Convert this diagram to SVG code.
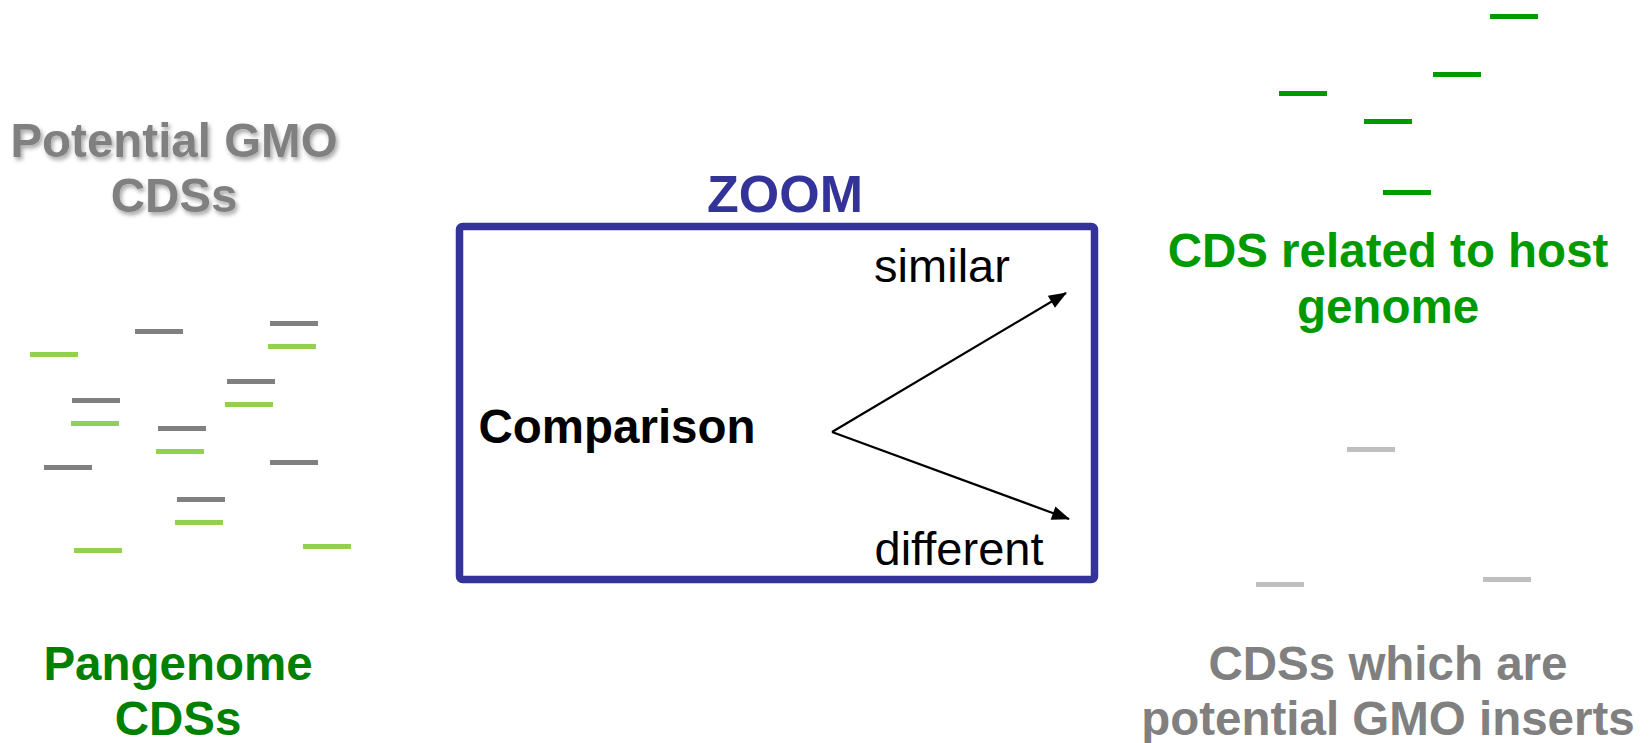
<svg xmlns="http://www.w3.org/2000/svg" width="1649" height="743" viewBox="0 0 1649 743">
<defs>
<style>
.t{font-family:"Liberation Sans",Arial,sans-serif;text-anchor:middle}
.b{font-weight:bold}
.gray{fill:#808080}
.pg{fill:#008000}
.hg{fill:#009900}
.bg{fill:#808080}
.bl{fill:#92D050}
.bd{fill:#009900}
.bs{fill:#BFBFBF}
.conn{stroke:#000;stroke-width:2.2;fill:none;marker-end:url(#ah)}
</style>
<filter id="sh" x="-10%" y="-20%" width="120%" height="150%">
<feDropShadow dx="2" dy="3" stdDeviation="2" flood-color="#000" flood-opacity="0.35"/>
</filter>
<marker id="ah" viewBox="0 0 18 14" refX="17" refY="7" markerWidth="18" markerHeight="14" markerUnits="userSpaceOnUse" orient="auto" overflow="visible">
<path d="M0,0 L18,7 L0,14 z" fill="#000"/>
</marker>
</defs>
<rect width="1649" height="743" fill="#fff"/>

<g id="potential-gmo-label">
<text class="t b gray" font-size="47.5" filter="url(#sh)"><tspan x="174" y="157">Potential GMO</tspan><tspan x="174" y="212">CDSs</tspan></text>
</g>

<g id="pangenome-cds">
<rect class="bg" x="270" y="321" width="48" height="5"/>
<rect class="bg" x="135" y="329" width="48" height="5"/>
<rect class="bg" x="227" y="379" width="48" height="5"/>
<rect class="bg" x="72" y="398" width="48" height="5"/>
<rect class="bg" x="158" y="426" width="48" height="5"/>
<rect class="bg" x="44" y="465" width="48" height="5"/>
<rect class="bg" x="270" y="460" width="48" height="5"/>
<rect class="bg" x="177" y="497" width="48" height="5"/>
<rect class="bl" x="30" y="352" width="48" height="5"/>
<rect class="bl" x="268" y="344" width="48" height="5"/>
<rect class="bl" x="225" y="402" width="48" height="5"/>
<rect class="bl" x="71" y="421" width="48" height="5"/>
<rect class="bl" x="156" y="449" width="48" height="5"/>
<rect class="bl" x="175" y="520" width="48" height="5"/>
<rect class="bl" x="74" y="548" width="48" height="5"/>
<rect class="bl" x="303" y="544" width="48" height="5"/>
</g>

<g id="pangenome-label">
<text class="t b pg" font-size="47.5"><tspan x="178" y="680">Pangenome</tspan><tspan x="178" y="735">CDSs</tspan></text>
</g>

<g id="zoom-box">
<text class="t b" font-size="52" fill="#333399" x="785" y="212">ZOOM</text>
<rect x="459.5" y="226.5" width="635" height="353" rx="3" fill="none" stroke="#333399" stroke-width="7.5"/>
<text class="t b" font-size="47.5" fill="#000" x="617" y="443">Comparison</text>
<text class="t" font-size="47" fill="#000" x="942" y="282">similar</text>
<text class="t" font-size="47" fill="#000" x="959" y="565">different</text>
</g>

<g id="connectors">
<line class="conn" x1="832" y1="432" x2="1066" y2="293"/>
<line class="conn" x1="832" y1="432" x2="1069" y2="519"/>
</g>

<g id="host-cds">
<rect class="bd" x="1490" y="14" width="48" height="5"/>
<rect class="bd" x="1433" y="72" width="48" height="5"/>
<rect class="bd" x="1279" y="91" width="48" height="5"/>
<rect class="bd" x="1364" y="119" width="48" height="5"/>
<rect class="bd" x="1383" y="190" width="48" height="5"/>
<text class="t b hg" font-size="47.5"><tspan x="1388" y="267">CDS related to host</tspan><tspan x="1388" y="323">genome</tspan></text>
</g>

<g id="gmo-inserts">
<rect class="bs" x="1347" y="447" width="48" height="5"/>
<rect class="bs" x="1256" y="582" width="48" height="5"/>
<rect class="bs" x="1483" y="577" width="48" height="5"/>
<text class="t b gray" font-size="47.5"><tspan x="1388" y="680">CDSs which are</tspan><tspan x="1388" y="735">potential GMO inserts</tspan></text>
</g>
</svg>
